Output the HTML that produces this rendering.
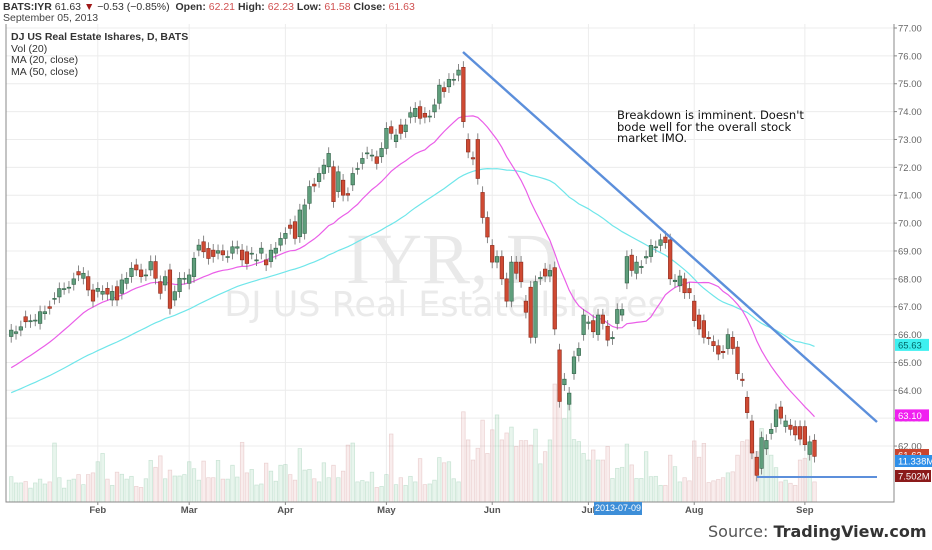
<!DOCTYPE html>
<html><head><meta charset="utf-8">
<style>
html,body{margin:0;padding:0;background:#fff;}
body{width:932px;height:550px;overflow:hidden;position:relative;font-family:"Liberation Sans",sans-serif;}
svg{position:absolute;left:0;top:0;}
</style></head>
<body>
<svg id="chart" width="932" height="550" viewBox="0 0 932 550"></svg>
<script>
// ---- data (Jan 2 2013 .. Sep 5 2013, index 0..169) ----
const priorCloses = [62.4,62.5,62.6,62.5,62.7,62.8,62.7,62.9,63.0,62.9,63.1,63.2,63.0,63.2,63.3,63.4,63.3,63.5,63.4,63.6,63.5,63.7,63.6,63.8,63.7,63.9,63.8,64.0,63.9,64.0,
63.9,64.1,64.0,64.2,64.3,64.2,64.4,64.5,64.4,64.6,64.7,64.6,64.8,64.9,65.0,65.1,65.2,65.4];
const opens = [65.6,65.8,
65.93,66.04,66.16,66.64,66.46,66.52,66.4,66.75,67.0,67.3,67.35,67.65,67.7,67.8,68.26,68.02,68.08,67.6,67.55,67.45,67.66,67.24,67.72,67.48,67.84,68.08,68.5,68.32,68.14,68.32,68.62,67.9,67.78,68.32,67.24,67.54,68.02,67.84,68.08,69.03,69.33,69.09,69.03,68.92,69.01,68.8,68.92,69.1,69.03,68.97,68.92,68.68,68.92,68.68,68.62,68.92,69.21,69.45,69.93,70.05,69.51,69.63,70.71,71.4,71.49,71.78,72.02,72.02,71.13,71.54,71.06,71.37,71.96,72.14,72.52,72.44,72.38,72.38,72.68,73.46,72.92,73.52,73.28,73.8,73.82,74.18,73.94,73.84,73.99,74.3,74.86,74.89,75.16,75.31,75.59,
73.0,72.35,73.0,71.1,70.2,69.2,68.6,68.8,68.0,67.2,68.6,68.6,67.2,67.7,65.9,68.0,68.35,68.1,68.4,65.45,64.2,63.5,64.6,65.25,66.0,66.4,66.5,66.0,66.7,66.3,65.85,66.4,66.7,67.85,68.85,68.2,68.4,68.75,68.8,69.15,69.2,69.5,69.4,67.9,67.75,68.0,67.65,67.2,66.7,66.5,65.9,65.75,65.6,65.4,65.5,65.9,65.55,64.4,63.75,62.9,61.6,61.2,61.9,62.45,62.7,63.4,62.7,62.75,62.7,62.7,62.7,61.7,62.21];
const closes = [65.8,65.9,
66.16,66.1,66.28,66.46,66.5,66.52,66.82,66.82,66.94,67.3,67.65,67.65,67.7,68.0,68.14,68.2,67.6,67.2,67.66,67.55,67.45,67.55,67.24,67.96,68.02,68.38,68.32,68.08,68.14,68.62,68.02,67.48,68.08,66.94,67.54,68.02,68.02,68.14,68.74,69.21,68.97,68.73,68.8,69.01,68.86,68.8,69.15,69.15,68.68,68.55,68.92,68.68,69.1,68.5,69.03,69.1,69.45,69.63,69.81,69.45,70.47,70.65,71.31,71.33,71.78,72.08,72.5,70.77,71.84,71.0,71.0,71.78,71.96,72.32,72.52,72.44,72.14,72.68,73.4,73.22,73.16,73.22,73.52,73.96,74.12,73.76,73.8,73.84,74.24,74.95,74.72,75.16,75.16,75.49,73.64,
72.55,72.3,71.6,70.2,69.5,68.6,68.8,68.0,67.2,68.6,68.2,67.9,66.8,65.9,67.9,68.05,68.1,68.3,66.2,63.6,64.4,63.9,65.2,65.5,66.7,66.45,66.1,66.7,66.4,65.8,65.9,66.9,66.9,68.8,68.3,68.6,68.45,68.8,69.2,69.15,69.4,69.3,68.0,67.95,68.1,67.5,67.5,66.5,66.2,65.9,65.85,65.6,65.3,65.35,66.0,65.5,64.6,64.35,63.2,61.75,60.95,62.3,62.2,62.6,63.3,63.0,62.9,62.6,62.4,62.25,62.05,62.15,61.63];
const volumes = [6,6,
7.3,5.5,5.5,5.9,4,5.5,6.6,5.2,5.8,17,7,4,6.3,6.6,7.9,5,7.9,8.4,11.6,14,6.6,4.8,8.6,8,6.6,7.4,4.5,4.2,6.7,12,10,13.3,6.7,9.2,7.5,7.5,7.9,11.6,9.6,6.3,11.8,7,7,12,6.6,6.6,10.6,7.2,17.2,8.4,9.4,4.9,5.2,11.2,8.9,6,10.6,10.8,7.9,6.3,15.4,9.2,9.4,6.7,5.8,11.3,7,10.6,7,8.9,16.4,17,5.8,6.2,5.8,8.6,4.2,4.5,7.9,19.6,5,7,4.8,7.4,5.8,12.5,5,5.2,6.3,12.8,11.3,11.6,6.7,5.8,26,
17.9,12.1,15.5,23.6,14,20.8,25.1,17.9,19.9,21.6,16,17.7,17.7,16.4,21,11,14.5,17.9,34,30,24,28.4,18,17.4,14,12.1,15,12.1,12.1,16,6.8,9.7,10,16.7,10.7,6.8,6.8,14.5,7.3,7.4,4.8,4.8,13.5,10.2,5.8,7,6.1,17.6,12.9,16.9,5.6,6.1,6.5,7,8.4,8.7,13.5,17.4,17.9,21.2,14.5,21.2,17.4,13.5,9.9,5.8,6.3,5.4,4.8,12.1,12.6,14,5.8];
const priceTicks = [62,63,64,65,66,67,68,69,70,71,72,73,74,75,76,77];
const monthLabels = ["Feb","Mar","Apr","May","Jun","Jul","Aug","Sep"];
const monthStartIdx = [20,39,59,80,102,122,144,167];
const firstVisible = 2;

// ---- axes ----
const PL=6, PR=894, PT=24, PB=502;
const X0=1.6, STEP=4.81;
function xScale(i){return X0+i*STEP;}
function yScale(p){return 28+(77-p)*27.87;}
function vScale(v){return PB-v*3.47;}

const NS="http://www.w3.org/2000/svg";
const svg=document.getElementById('chart');
function mk(tag,attrs,parent){const e=document.createElementNS(NS,tag);for(const k in attrs)e.setAttribute(k,attrs[k]);(parent||svg).appendChild(e);return e;}

// grid
const grid=mk('g',{});


priceTicks.forEach(p=>{mk('line',{x1:PL,x2:PR,y1:yScale(p),y2:yScale(p),stroke:'#ececec','stroke-width':1},grid);});
monthStartIdx.forEach(i=>{mk('line',{x1:xScale(i),x2:xScale(i),y1:PT,y2:PB,stroke:'#ececec','stroke-width':1},grid);});

// watermark
const wm1=mk('text',{x:452,y:283,'font-size':72,fill:'#e9e9e9','text-anchor':'middle','font-family':'"Liberation Serif",serif'});
wm1.textContent='IYR, D';


const wm2=mk('text',{x:445,y:316,'font-size':35,fill:'#eaeaea','text-anchor':'middle','font-family':'"DejaVu Sans",sans-serif'});
wm2.textContent='DJ US Real Estate Ishares';



// volume
const vg=mk('g',{});


for(let i=firstVisible;i<closes.length;i++){
  const up=closes[i]>=opens[i];
  const y=vScale(volumes[i]);
  const r=mk('rect',{x:xScale(i)-1.8,y:y,width:3.6,height:PB-y,fill:up?'rgba(110,190,140,0.16)':'rgba(210,130,130,0.14)',stroke:up?'rgba(110,180,140,0.32)':'rgba(200,130,130,0.32)','stroke-width':0.7},vg);
  
  
}

// moving averages
const all=priorCloses.concat(closes);
const off=priorCloses.length;
function maPath(n){
  let d='';
  for(let i=firstVisible;i<closes.length;i++){
    let s=0;for(let k=i+off-n+1;k<=i+off;k++)s+=all[k];
    d+=(d?'L':'M')+xScale(i).toFixed(1)+','+yScale(s/n).toFixed(1);
  }
  return d;
}
const ma50=mk('path',{d:maPath(50),fill:'none',stroke:'#6fe6ea','stroke-width':1.2});


const ma20=mk('path',{d:maPath(20),fill:'none',stroke:'#ea5ee8','stroke-width':1.2});



// candles
const cg=mk('g',{});


for(let i=firstVisible;i<closes.length;i++){
  const o=opens[i],c=closes[i],up=c>=o;
  const x=xScale(i);
  const hi=Math.max(o,c)+0.22, lo=Math.min(o,c)-0.22;
  const w=mk('line',{x1:x,x2:x,y1:yScale(hi),y2:yScale(lo),stroke:'#7a7a7a','stroke-width':0.9},cg);
  
  
  const yt=yScale(Math.max(o,c)),yb=yScale(Math.min(o,c));
  const b=mk('rect',{x:x-1.8,y:yt,width:3.6,height:Math.max(1,yb-yt),fill:up?'#5f9e7c':'#cf4a33',stroke:up?'#2f5f45':'#8a2a1c','stroke-width':0.6},cg);
  
  
}

// drawings
const tl=mk('line',{x1:463,y1:52,x2:877,y2:422,stroke:'#5c8fdb','stroke-width':2.4});


const hl=mk('line',{x1:757,y1:477,x2:877,y2:477,stroke:'#5c8fdb','stroke-width':2});



// frame
const fr=mk('path',{d:`M${PL},${PT}V${PB}H${PR}V${PT}`,fill:'none',stroke:'#888','stroke-width':1});



// price axis
const ya=mk('g',{'font-size':9.5,fill:'#666','font-family':'"Liberation Sans",sans-serif'});


priceTicks.forEach(p=>{
  mk('line',{x1:PR,x2:PR+3,y1:yScale(p),y2:yScale(p),stroke:'#888'},ya);
  const t=mk('text',{x:PR+4,y:yScale(p)+3.5},ya);t.textContent=p.toFixed(2);
  
  
});
// x axis
const xa=mk('g',{'font-size':9.5,fill:'#555','font-weight':'bold','text-anchor':'middle'});


monthLabels.forEach((m,k)=>{
  const x=xScale(monthStartIdx[k]);
  mk('line',{x1:x,x2:x,y1:PB,y2:PB+3,stroke:'#888'},xa);
  const t=mk('text',{x:x,y:513},xa);t.textContent=m;
  
  
});

// price labels
function tag(y,txt,bg,fg,name,w){
  const g=mk('g',{});
  
  
  mk('rect',{x:PR+1,y:y-6,width:w,height:12,fill:bg},g);
  const t=mk('text',{x:PR+4,y:y+3.5,'font-size':9.5,fill:fg},g);t.textContent=txt;
}
tag(455,'61.63','#c8442f','#fff','last-price-tag',34);
tag(yScale(65.63),'65.63','#3ef0f0','#066','ma50-tag',34);
tag(yScale(63.10),'63.10','#f020f0','#fff','ma20-tag',34);
tag(461,'11.338M','#2f8fe8','#fff','volume-ma-tag',38);
tag(476,'7.502M','#8b1a1a','#fff','volume-tag',36);
</script>

<div style="position:absolute;left:3px;top:1px;font-size:10.5px;color:#333;white-space:nowrap;">
<b>BATS:IYR</b> 61.63 <span style="color:#a01818">▼</span> −0.53 (−0.85%)&nbsp; <b>Open:</b> <span style="color:#d05050">62.21</span> <b>High:</b> <span style="color:#d05050">62.23</span> <b>Low:</b> <span style="color:#d05050">61.58</span> <b>Close:</b> <span style="color:#d05050">61.63</span></div>
<div style="position:absolute;left:3px;top:12px;font-size:10.5px;color:#444;">September 05, 2013</div>
<div style="position:absolute;left:11px;top:32px;font-size:10.5px;color:#333;line-height:11.5px;">
<div><b>DJ US Real Estate Ishares, D, BATS</b></div>
<div>Vol (20)</div>
<div>MA (20, close)</div>
<div>MA (50, close)</div>
</div>
<div style="position:absolute;left:617px;top:110px;font-family:'DejaVu Sans',sans-serif;font-size:11.5px;line-height:11.5px;color:#111;white-space:nowrap;">Breakdown is imminent. Doesn't<br>bode well for the overall stock<br>market IMO.</div>
<div style="position:absolute;left:594px;top:502px;width:48px;height:13px;background:#3d8ed8;color:#fff;font-size:9px;line-height:13px;text-align:center;white-space:nowrap;overflow:visible;">2013-07-09</div>
<div style="position:absolute;left:708px;top:522px;font-family:'DejaVu Sans',sans-serif;font-size:16px;color:#555;white-space:nowrap;">Source: <b style="color:#333">TradingView.com</b></div>
</body></html>
